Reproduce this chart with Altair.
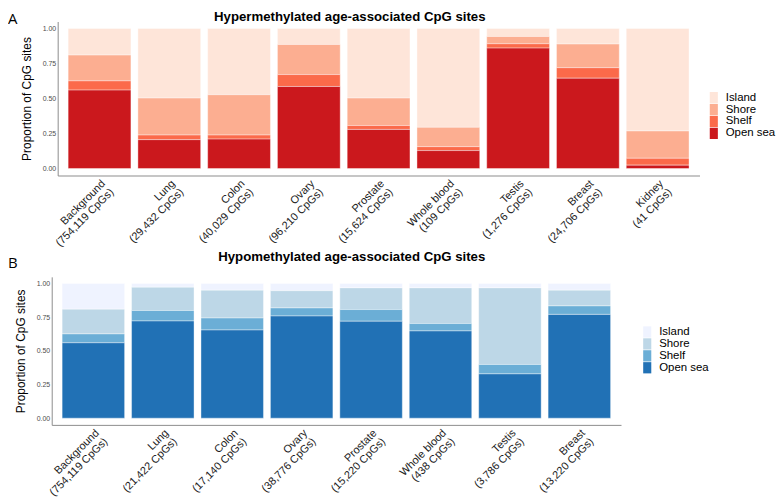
import altair as alt
import pandas as pd

regions = ["Island", "Shore", "Shelf", "Open sea"]
stack_rank = [3, 2, 1, 0]
reds = ["#FEE5D9", "#FCAE91", "#FB6A4A", "#CB181D"]
blues = ["#EFF3FF", "#BDD7E7", "#6BAED6", "#2171B5"]

hyper_tissues = ["Background", "Lung", "Colon", "Ovary", "Prostate", "Whole blood", "Testis", "Breast", "Kidney"]
hyper_counts = ["754,119", "29,432", "40,029", "96,210", "15,624", "109", "1,276", "24,706", "41"]
hyper_open_sea = [0.560, 0.206, 0.210, 0.586, 0.279, 0.128, 0.860, 0.645, 0.024]
hyper_shelf = [0.066, 0.033, 0.029, 0.085, 0.028, 0.028, 0.031, 0.075, 0.049]
hyper_shore = [0.184, 0.264, 0.288, 0.215, 0.196, 0.138, 0.052, 0.169, 0.195]
hyper_island = [0.190, 0.497, 0.473, 0.114, 0.497, 0.706, 0.057, 0.111, 0.732]

hypo_tissues = ["Background", "Lung", "Colon", "Ovary", "Prostate", "Whole blood", "Testis", "Breast"]
hypo_counts = ["754,119", "21,422", "17,140", "38,776", "15,220", "438", "3,786", "13,220"]
hypo_open_sea = [0.560, 0.722, 0.655, 0.759, 0.720, 0.648, 0.329, 0.771]
hypo_shelf = [0.066, 0.078, 0.089, 0.060, 0.087, 0.055, 0.070, 0.063]
hypo_shore = [0.184, 0.173, 0.207, 0.128, 0.161, 0.265, 0.569, 0.117]
hypo_island = [0.190, 0.027, 0.049, 0.053, 0.032, 0.032, 0.032, 0.049]

FONT = "Liberation Sans"


def build_df(tissues, counts, island, shore, shelf, open_sea):
    rows = []
    labels = []
    for i, t in enumerate(tissues):
        lab = f"{t}|({counts[i]} CpGs)"
        labels.append(lab)
        for reg, rank, vals in zip(regions, stack_rank, [island, shore, shelf, open_sea]):
            rows.append({"label": lab, "region": reg, "rank": rank, "value": vals[i]})
    return pd.DataFrame(rows), labels


def panel(df, labels, palette, title, letter, width, height, x0, title_x, title_y,
          letter_x, letter_y, leg_x, leg_y):
    bars = alt.Chart(df).mark_bar(stroke="white", strokeWidth=0.4).encode(
        x=alt.X("label:N", sort=labels,
                scale=alt.Scale(range=[x0, width], paddingInner=0.1, paddingOuter=0.15),
                axis=alt.Axis(title=None, labelAngle=-45, labelAlign="right",
                              labelBaseline="top", labelExpr="split(datum.value, '|')",
                              labelFontSize=11, labelColor="#1a1a1a", labelLineHeight=12,
                              ticks=False, labelPadding=2, domainColor="#8c8c8c",
                              labelOverlap=False, labelFont=FONT)),
        y=alt.Y("value:Q", stack="zero",
                scale=alt.Scale(domain=[-0.05, 1.05], nice=False, zero=False),
                axis=alt.Axis(title="Proportion of CpG sites", values=[0, 0.25, 0.5, 0.75, 1],
                              format=".2f", labelFontSize=7, labelColor="#4d4d4d",
                              ticks=False, labelPadding=2, grid=False, domainColor="#8c8c8c",
                              titleFontSize=12, titleFontWeight="normal", titleColor="black",
                              titlePadding=9, labelFont=FONT, titleFont=FONT, offset=-x0)),
        color=alt.Color("region:N", scale=alt.Scale(domain=regions, range=palette),
                        legend=alt.Legend(title=None, orient="none", legendX=leg_x, legendY=leg_y,
                                          symbolType="M-0.72,-1H0.72V1H-0.72Z", symbolSize=128,
                                          symbolStrokeWidth=0, labelFontSize=11.5, labelOffset=6,
                                          rowPadding=0, padding=0, labelColor="black",
                                          labelFont=FONT, symbolOpacity=1)),
        order=alt.Order("rank:Q"),
    )
    ttl = alt.Chart(pd.DataFrame({"t": [title]})).mark_text(
        font=FONT, fontSize=13.3, fontWeight="bold", align="center", baseline="alphabetic",
        color="black"
    ).encode(x=alt.value(title_x), y=alt.value(title_y), text="t:N")
    let = alt.Chart(pd.DataFrame({"t": [letter]})).mark_text(
        font="Open Sans", fontSize=15, align="left", baseline="alphabetic", color="black"
    ).encode(x=alt.value(letter_x), y=alt.value(letter_y), text="t:N")
    return alt.layer(bars, ttl, let).properties(width=width, height=height)


df_a, lab_a = build_df(hyper_tissues, hyper_counts, hyper_island, hyper_shore, hyper_shelf, hyper_open_sea)
df_b, lab_b = build_df(hypo_tissues, hypo_counts, hypo_island, hypo_shore, hypo_shelf, hypo_open_sea)

chart_a = panel(df_a, lab_a, reds, "Hypermethylated age-associated CpG sites", "A",
                652, 155, 6, 300, -1, -44, 3, 660.4, 70.6)
chart_b = panel(df_b, lab_b, blues, "Hypomethylated age-associated CpG sites", "B",
                573, 149, 0, 302, -16, -44, -9, 593.4, 49.5)

chart = alt.vconcat(chart_a, chart_b, spacing=1).resolve_scale(
    color="independent", x="independent", y="independent"
).properties(padding=0).configure(font=FONT).configure_view(stroke=None)

chart.save("out.html", embed_options={"renderer": "svg", "actions": False})
